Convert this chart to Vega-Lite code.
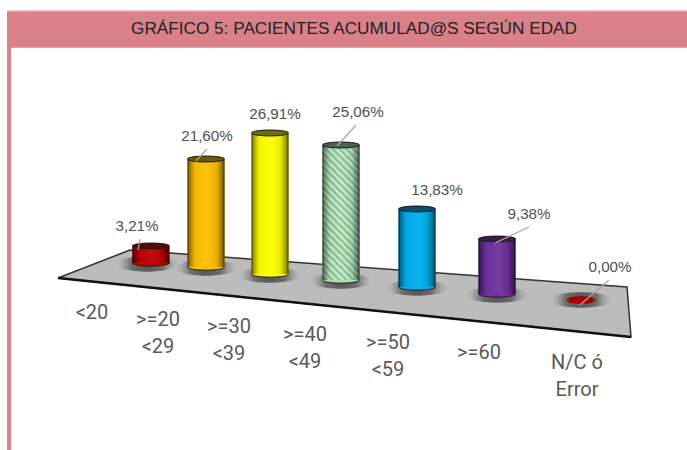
{"$schema":"https://vega.github.io/schema/vega-lite/v6.json","width":687,"height":450,"autosize":{"type":"fit","contains":"padding"},"padding":0,"background":"#ffffff","view":{"stroke":null},
"datasets":{"edades":[
{"edad":"<20","orden":1,"pct":3.21,"texto":"3,21%","eje":["<20"]},
{"edad":">=20 <29","orden":2,"pct":21.6,"texto":"21,60%","eje":[">=20","<29"]},
{"edad":">=30 <39","orden":3,"pct":26.91,"texto":"26,91%","eje":[">=30","<39"]},
{"edad":">=40 <49","orden":4,"pct":25.06,"texto":"25,06%","eje":[">=40","<49"]},
{"edad":">=50 <59","orden":5,"pct":13.83,"texto":"13,83%","eje":[">=50","<59"]},
{"edad":">=60","orden":6,"pct":9.38,"texto":"9,38%","eje":[">=60"]},
{"edad":"N/C ó Error","orden":7,"pct":0,"texto":"0,00%","eje":["N/C ó","Error"]}],
"guias":[{"guia":1,"punto":1},{"guia":1,"punto":2},{"guia":2,"punto":3},{"guia":2,"punto":4},{"guia":4,"punto":5},{"guia":4,"punto":6},{"guia":6,"punto":7},{"guia":6,"punto":8},{"guia":7,"punto":9},{"guia":7,"punto":10}]},
"data":{"name":"edades"},
"resolve":{"scale":{"x":"independent","y":"independent","fill":"independent"}},
"layer":[
{"data":{"values":[{"zona":1}]},"mark":{"type":"rect","width":680,"height":38,"fill":"#f0c4c8"},"encoding":{"x":{"field":"zona","type":"quantitative","axis":null,"scale":{"domain":[0,2],"range":[347,347]}},"y":{"field":"zona","type":"quantitative","axis":null,"scale":{"domain":[0,2],"range":[29,29]}}}},
{"data":{"values":[{"zona":1}]},"mark":{"type":"rect","width":680,"height":36,"fill":"#d98088"},"encoding":{"x":{"field":"zona","type":"quantitative","axis":null,"scale":{"domain":[0,2],"range":[347,347]}},"y":{"field":"zona","type":"quantitative","axis":null,"scale":{"domain":[0,2],"range":[29.5,29.5]}}}},
{"data":{"values":[{"zona":1}]},"mark":{"type":"rect","width":4,"height":420,"fill":"#d98088"},"encoding":{"x":{"field":"zona","type":"quantitative","axis":null,"scale":{"domain":[0,2],"range":[9,9]}},"y":{"field":"zona","type":"quantitative","axis":null,"scale":{"domain":[0,2],"range":[240,240]}}}},
{"data":{"values":[{"titulo":"GRÁFICO 5: PACIENTES ACUMULAD@S SEGÚN EDAD","zona":1}]},"mark":{"type":"text","font":"Liberation Sans","fontSize":17.2,"color":"#222222","align":"center","baseline":"middle"},"encoding":{"text":{"field":"titulo"},"x":{"field":"zona","type":"quantitative","axis":null,"scale":{"domain":[0,2],"range":[354,354]}},"y":{"field":"zona","type":"quantitative","axis":null,"scale":{"domain":[0,2],"range":[29,29]}}}},
{"data":{"values":[{"vertice":1},{"vertice":2},{"vertice":3},{"vertice":4},{"vertice":5}]},"mark":{"type":"line","fill":"#bcbcbc","stroke":"#333333","strokeWidth":1.5,"strokeJoin":"miter"},"encoding":{"order":{"field":"vertice"},"x":{"field":"vertice","type":"quantitative","axis":null,"scale":{"domain":[1,2,3,4,5],"range":[58,130,627,631,58]}},"y":{"field":"vertice","type":"quantitative","axis":null,"scale":{"domain":[1,2,3,4,5],"range":[278,250,287,337,278]}}}},
{"data":{"values":[{"vertice":1},{"vertice":2}]},"mark":{"type":"line","stroke":"#111111","strokeWidth":2.5},"encoding":{"order":{"field":"vertice"},"x":{"field":"vertice","type":"quantitative","axis":null,"scale":{"domain":[1,2],"range":[58,631]}},"y":{"field":"vertice","type":"quantitative","axis":null,"scale":{"domain":[1,2],"range":[278,337]}}}},
{"mark":{"type":"point","filled":true,"opacity":1,"size":4100,"shape":"M-1,0A1,0.24,0,1,0,1,0A1,0.24,0,1,0,-1,0Z","fill":{"gradient":"radial","x1":0.5,"y1":0.5,"r1":0,"x2":0.5,"y2":0.5,"r2":0.5,"stops":[{"offset":0,"color":"rgba(60,60,60,0.85)"},{"offset":0.5,"color":"rgba(70,70,70,0.65)"},{"offset":1,"color":"rgba(170,170,170,0)"}]}},"encoding":{
"x":{"field":"orden","type":"quantitative","axis":null,"scale":{"domain":[1,2,3,4,5,6,7],"range":[147,206,270,341,417,497,581]}},
"y":{"field":"orden","type":"quantitative","axis":null,"scale":{"domain":[1,2,3,4,5,6,7],"range":[264,268,275,281,288,295,300]}}}},
{"transform":[{"filter":"datum.pct == 0"}],"mark":{"type":"point","filled":true,"opacity":1,"size":1000,"shape":"M-1,0A1,0.24,0,1,0,1,0A1,0.24,0,1,0,-1,0Z","fill":{"gradient":"radial","x1":0.5,"y1":0.5,"r1":0,"x2":0.5,"y2":0.5,"r2":0.5,"stops":[{"offset":0,"color":"#b00000"},{"offset":0.7,"color":"#a00000"},{"offset":1,"color":"rgba(120,40,30,0.2)"}]}},"encoding":{
"x":{"field":"orden","type":"quantitative","axis":null,"scale":{"domain":[1,2,3,4,5,6,7],"range":[147,206,270,341,417,497,581]}},
"y":{"field":"orden","type":"quantitative","axis":null,"scale":{"domain":[1,2,3,4,5,6,7],"range":[264,268,275,281,288,295,300]}}}},
{"transform":[{"filter":"datum.pct > 0"}],
"encoding":{
"x":{"field":"orden","type":"quantitative","axis":null,"scale":{"domain":[1,2,3,4,5,6,7],"range":[147,206,270,341,417,497,581]}},
"y":{"field":"pct","type":"quantitative","axis":null,"stack":null,"scale":{"domain":[0,3.21,9.38,13.83,21.6,25.06,26.91],"range":[263,246,208,185,155,128,122]}}},
"layer":[
{"mark":{"type":"point","filled":true,"opacity":1,"size":1369,"stroke":"#222222","strokeWidth":1,"shape":"M-1,0A1,0.17,0,1,0,1,0A1,0.17,0,1,0,-1,0Z","yOffset":{"expr":"[0,4,11,17,24,31,38][datum.orden-1]"}},"encoding":{"y":{"datum":0},
"fill":{"field":"edad","type":"nominal","legend":null,"scale":{"domain":["<20",">=20 <29",">=30 <39",">=40 <49",">=50 <59",">=60","N/C ó Error"],"range":["#c00000","#ffc000","#ffff00","#a8dcae","#00b0f0","#7030a0","#b00000"]}}}},
{"mark":{"type":"bar","size":37,"orient":"vertical","yOffset":{"expr":"[0,4,11,17,24,31,38][datum.orden-1]"},"y2Offset":{"expr":"[0,4,11,17,24,31,38][datum.orden-1]"}},"encoding":{
"y2":{"datum":0},
"fill":{"field":"edad","type":"nominal","legend":null,"scale":{"domain":["<20",">=20 <29",">=30 <39",">=40 <49",">=50 <59",">=60","N/C ó Error"],"range":["#c00000","#ffc000","#ffff00","#a8dcae","#00b0f0","#7030a0","#b00000"]}}}},
{"transform":[{"filter":"datum.orden == 4"}],"mark":{"type":"bar","size":37,"orient":"vertical","yOffset":{"expr":"[0,4,11,17,24,31,38][datum.orden-1]"},"y2Offset":{"expr":"[0,4,11,17,24,31,38][datum.orden-1]"},"fill":{"gradient":"linear","x1":0,"y1":1,"x2":0.327,"y2":-0.186,"stops":[{"offset":0,"color":"#dff3da"},{"offset":0.02,"color":"#74c088"},{"offset":0.04,"color":"#dff3da"},{"offset":0.06,"color":"#74c088"},{"offset":0.08,"color":"#dff3da"},{"offset":0.1,"color":"#74c088"},{"offset":0.12,"color":"#dff3da"},{"offset":0.14,"color":"#74c088"},{"offset":0.16,"color":"#dff3da"},{"offset":0.18,"color":"#74c088"},{"offset":0.2,"color":"#dff3da"},{"offset":0.22,"color":"#74c088"},{"offset":0.24,"color":"#dff3da"},{"offset":0.26,"color":"#74c088"},{"offset":0.28,"color":"#dff3da"},{"offset":0.3,"color":"#74c088"},{"offset":0.32,"color":"#dff3da"},{"offset":0.34,"color":"#74c088"},{"offset":0.36,"color":"#dff3da"},{"offset":0.38,"color":"#74c088"},{"offset":0.4,"color":"#dff3da"},{"offset":0.42,"color":"#74c088"},{"offset":0.44,"color":"#dff3da"},{"offset":0.46,"color":"#74c088"},{"offset":0.48,"color":"#dff3da"},{"offset":0.5,"color":"#74c088"},{"offset":0.52,"color":"#dff3da"},{"offset":0.54,"color":"#74c088"},{"offset":0.56,"color":"#dff3da"},{"offset":0.58,"color":"#74c088"},{"offset":0.6,"color":"#dff3da"},{"offset":0.62,"color":"#74c088"},{"offset":0.64,"color":"#dff3da"},{"offset":0.66,"color":"#74c088"},{"offset":0.68,"color":"#dff3da"},{"offset":0.7,"color":"#74c088"},{"offset":0.72,"color":"#dff3da"},{"offset":0.74,"color":"#74c088"},{"offset":0.76,"color":"#dff3da"},{"offset":0.78,"color":"#74c088"},{"offset":0.8,"color":"#dff3da"},{"offset":0.82,"color":"#74c088"},{"offset":0.84,"color":"#dff3da"},{"offset":0.86,"color":"#74c088"},{"offset":0.88,"color":"#dff3da"},{"offset":0.9,"color":"#74c088"},{"offset":0.92,"color":"#dff3da"},{"offset":0.94,"color":"#74c088"},{"offset":0.96,"color":"#dff3da"},{"offset":0.98,"color":"#74c088"},{"offset":1,"color":"#dff3da"}]}},"encoding":{"y2":{"datum":0}}},
{"mark":{"type":"bar","size":37,"orient":"vertical","yOffset":{"expr":"[0,4,11,17,24,31,38][datum.orden-1]"},"y2Offset":{"expr":"[0,4,11,17,24,31,38][datum.orden-1]"},"fill":{"gradient":"linear","x1":0,"y1":0,"x2":1,"y2":0,"stops":[{"offset":0,"color":"rgba(0,0,0,0.85)"},{"offset":0.05,"color":"rgba(0,0,0,0.4)"},{"offset":0.2,"color":"rgba(0,0,0,0.05)"},{"offset":0.5,"color":"rgba(255,255,255,0.05)"},{"offset":0.8,"color":"rgba(0,0,0,0.1)"},{"offset":0.95,"color":"rgba(0,0,0,0.45)"},{"offset":1,"color":"rgba(0,0,0,0.85)"}]}},"encoding":{"y2":{"datum":0}}},
{"mark":{"type":"point","filled":true,"opacity":1,"size":1369,"strokeWidth":1,"stroke":"#222222","shape":"M-1,0A1,0.16,0,1,0,1,0A1,0.16,0,1,0,-1,0Z","yOffset":{"expr":"[0,4,11,17,24,31,38][datum.orden-1]"}},"encoding":{
"fill":{"field":"edad","type":"nominal","legend":null,"scale":{"domain":["<20",">=20 <29",">=30 <39",">=40 <49",">=50 <59",">=60","N/C ó Error"],"range":["#c00000","#ffc000","#ffff00","#a8dcae","#00b0f0","#7030a0","#b00000"]}}}},
{"mark":{"type":"point","filled":true,"opacity":0.6,"fill":"#111111","size":1369,"shape":"M-1,0A1,0.16,0,1,0,1,0A1,0.16,0,1,0,-1,0Z","yOffset":{"expr":"[0,4,11,17,24,31,38][datum.orden-1]"}}}
]},
{"data":{"name":"guias"},"mark":{"type":"line","stroke":"#a6a6a6","strokeWidth":1.3},"encoding":{"detail":{"field":"guia"},"order":{"field":"punto"},
"x":{"field":"punto","type":"quantitative","axis":null,"scale":{"domain":[1,2,3,4,5,6,7,8,9,10],"range":[140,138,207,196,356,337,529,495,609,580]}},
"y":{"field":"punto","type":"quantitative","axis":null,"scale":{"domain":[1,2,3,4,5,6,7,8,9,10],"range":[239,250,149,161,125,146,227,243,280,305]}}}},
{"mark":{"type":"text","font":"Liberation Sans","fontSize":15.2,"color":"#505050","align":"center","baseline":"middle"},"encoding":{"text":{"field":"texto"},
"x":{"field":"orden","type":"quantitative","axis":null,"scale":{"domain":[1,2,3,4,5,6,7],"range":[137,207,275,358,437,529,610]}},
"y":{"field":"orden","type":"quantitative","axis":null,"scale":{"domain":[1,2,3,4,5,6,7],"range":[226,136,114,112,190,214,267]}}}},
{"mark":{"type":"text","font":"Roboto","fontSize":20,"color":"#595959","align":"center","baseline":"top","lineHeight":27},"encoding":{"text":{"field":"eje"},
"x":{"field":"orden","type":"quantitative","axis":null,"scale":{"domain":[1,2,3,4,5,6,7],"range":[92,158,229,305,388,479,577]}},
"y":{"field":"orden","type":"quantitative","axis":null,"scale":{"domain":[1,2,3,4,5,6,7],"range":[303,310,317,325,333,343,353]}}}}
]}
